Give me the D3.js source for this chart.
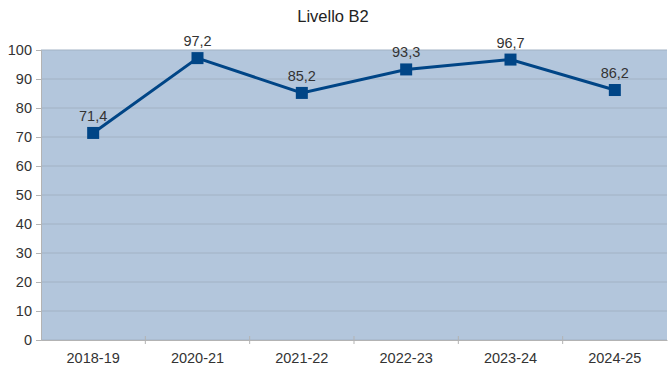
<!DOCTYPE html>
<html><head><meta charset="utf-8">
<script src="https://cdn.jsdelivr.net/npm/d3@7"></script>
<style>body{margin:0;background:#fff}svg{display:block;font-family:"Liberation Sans",Arial,sans-serif}</style>
</head><body><svg id="c" width="668" height="371"></svg>
<script>
const categories = ["2018-19","2020-21","2021-22","2022-23","2023-24","2024-25"];
const values = [71.4,97.2,85.2,93.3,96.7,86.2];
const labels = ["71,4","97,2","85,2","93,3","96,7","86,2"];
const yTicks = [0,10,20,30,40,50,60,70,80,90,100];
const title = "Livello B2";

const svg = d3.select("#c");
const L = 41, R = 667, T = 50, B = 340;
const x = d3.scaleBand().domain(categories).range([L, R]);
const y = d3.scaleLinear().domain([0,100]).range([B, T]);

svg.append("rect").attr("x",L).attr("y",T).attr("width",R-L).attr("height",B-T).attr("fill","#b3c6dc");
svg.append("g").selectAll("line").data(yTicks).join("line")
  .attr("x1",L).attr("x2",R).attr("y1",d=>y(d)).attr("y2",d=>y(d))
  .attr("stroke","#a2b2c4").attr("stroke-width",1);

const ya = svg.append("g").attr("transform",`translate(${L},0)`)
  .call(d3.axisLeft(y).tickValues(yTicks).tickSize(5).tickPadding(4));
ya.select(".domain").attr("stroke","#b3b3b3");
ya.selectAll(".tick line").attr("stroke","#b3b3b3");
ya.selectAll("text").attr("fill","#333").style("font-size","14.5px");

const xa = svg.append("g").attr("transform",`translate(0,${B})`)
  .call(d3.axisBottom(x).tickSize(0).tickPadding(13));
xa.select(".domain").attr("stroke","#b3b3b3");
xa.selectAll("text").attr("fill","#333").style("font-size","14.5px");
svg.append("g").selectAll("line").data(categories.slice(1)).join("line")
  .attr("x1",d=>x(d)).attr("x2",d=>x(d)).attr("y1",B-4).attr("y2",B+4)
  .attr("stroke","#b3b3b3");

const cx = d => x(d) + x.bandwidth()/2;
svg.append("path").datum(values)
  .attr("d", d3.line().x((d,i)=>cx(categories[i])).y(d=>y(d)))
  .attr("fill","none").attr("stroke","#004586").attr("stroke-width",3);
svg.append("g").selectAll("rect").data(values).join("rect")
  .attr("x",(d,i)=>cx(categories[i])-6).attr("y",d=>y(d)-6)
  .attr("width",12).attr("height",12).attr("fill","#004586");
svg.append("g").selectAll("text").data(values).join("text")
  .attr("x",(d,i)=>cx(categories[i])).attr("y",d=>y(d)-12)
  .attr("text-anchor","middle").attr("fill","#333").style("font-size","14.5px")
  .text((d,i)=>labels[i]);

svg.append("text").attr("x",333).attr("y",22).attr("text-anchor","middle")
  .attr("fill","#222").style("font-size","16.5px").text(title);
</script></body></html>
